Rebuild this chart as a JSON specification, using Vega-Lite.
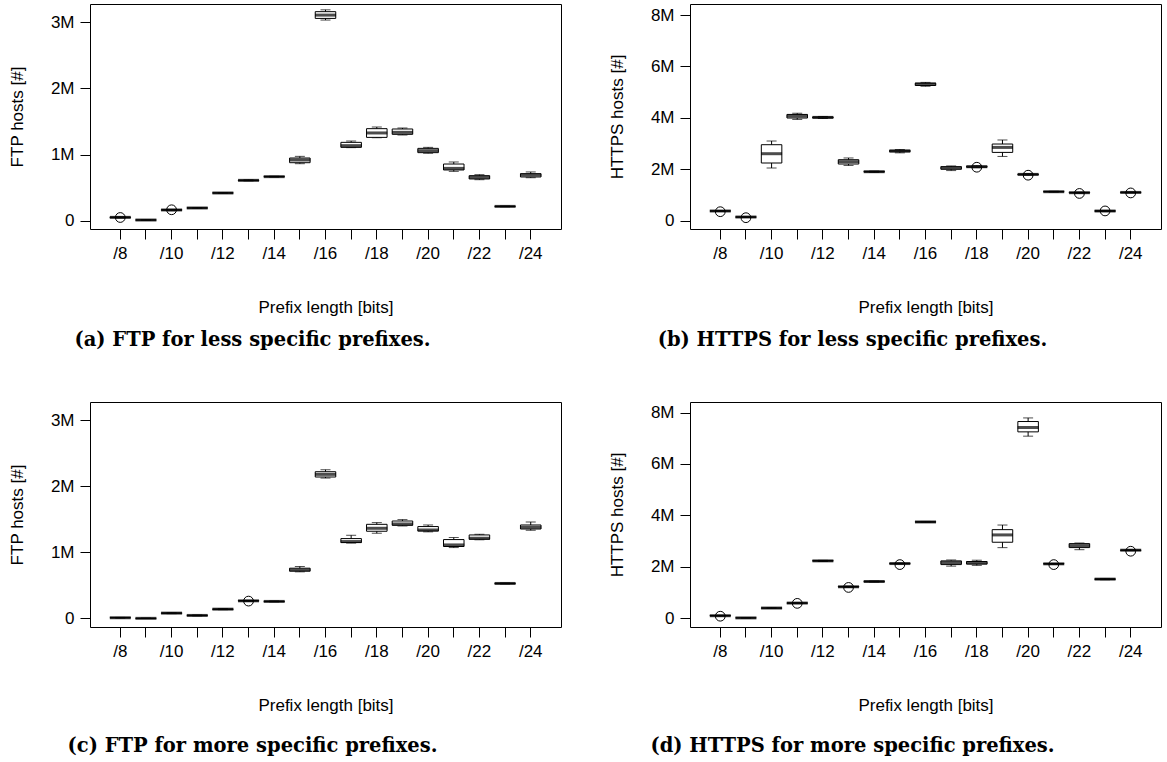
{
  "$schema": "https://vega.github.io/schema/vega-lite/v6.json",
  "background": "white",
  "padding": {"left": 7, "top": 3, "right": 0, "bottom": 0},
  "config": {
    "view": {"stroke": "black", "strokeWidth": 1},
    "axis": {"labelFont": "Liberation Sans", "labelFontSize": 17, "titleFont": "Liberation Sans", "titleFontSize": 17, "titleFontWeight": "normal", "labelColor": "black", "titleColor": "black", "tickColor": "black", "tickSize": 10, "labelPadding": 6, "domain": false, "grid": false},
    "axisX": {"labelAngle": 0, "titlePadding": 38, "labelOverlap": false},
    "axisY": {"titlePadding": 24},
    "title": {"font": "DejaVu Serif", "fontSize": 19.5, "fontWeight": "bold", "color": "black", "orient": "bottom", "anchor": "middle", "dx": -73, "offset": 16}
  },
  "datasets": {
    "boxes": [
      {"panel": "a", "p": 8, "lo": 40000, "q1": 45000, "med": 50000, "q3": 55000, "hi": 60000},
      {"panel": "a", "p": 9, "lo": 5000, "q1": 8000, "med": 10000, "q3": 12000, "hi": 15000},
      {"panel": "a", "p": 10, "lo": 150000, "q1": 157000, "med": 162000, "q3": 167000, "hi": 172000},
      {"panel": "a", "p": 11, "lo": 185000, "q1": 189000, "med": 192000, "q3": 195000, "hi": 199000},
      {"panel": "a", "p": 12, "lo": 412000, "q1": 416000, "med": 419000, "q3": 422000, "hi": 426000},
      {"panel": "a", "p": 13, "lo": 602000, "q1": 606000, "med": 610000, "q3": 614000, "hi": 618000},
      {"panel": "a", "p": 14, "lo": 660000, "q1": 663000, "med": 666000, "q3": 669000, "hi": 672000},
      {"panel": "a", "p": 15, "lo": 862000, "q1": 877000, "med": 918000, "q3": 948000, "hi": 973000},
      {"panel": "a", "p": 16, "lo": 3035000, "q1": 3060000, "med": 3110000, "q3": 3162000, "hi": 3190000},
      {"panel": "a", "p": 17, "lo": 1105000, "q1": 1109000, "med": 1135000, "q3": 1185000, "hi": 1205000},
      {"panel": "a", "p": 18, "lo": 1255000, "q1": 1260000, "med": 1327000, "q3": 1392000, "hi": 1417000},
      {"panel": "a", "p": 19, "lo": 1296000, "q1": 1306000, "med": 1336000, "q3": 1387000, "hi": 1402000},
      {"panel": "a", "p": 20, "lo": 1020000, "q1": 1029000, "med": 1059000, "q3": 1094000, "hi": 1109000},
      {"panel": "a", "p": 21, "lo": 746000, "q1": 767000, "med": 791000, "q3": 857000, "hi": 888000},
      {"panel": "a", "p": 22, "lo": 620000, "q1": 631000, "med": 655000, "q3": 681000, "hi": 696000},
      {"panel": "a", "p": 23, "lo": 210000, "q1": 213000, "med": 216000, "q3": 219000, "hi": 222000},
      {"panel": "a", "p": 24, "lo": 650000, "q1": 661000, "med": 691000, "q3": 711000, "hi": 737000},

      {"panel": "b", "p": 8, "lo": 360000, "q1": 370000, "med": 377000, "q3": 385000, "hi": 395000},
      {"panel": "b", "p": 9, "lo": 125000, "q1": 135000, "med": 143000, "q3": 150000, "hi": 160000},
      {"panel": "b", "p": 10, "lo": 2050000, "q1": 2244000, "med": 2606000, "q3": 2956000, "hi": 3100000},
      {"panel": "b", "p": 11, "lo": 3940000, "q1": 3994000, "med": 4072000, "q3": 4134000, "hi": 4180000},
      {"panel": "b", "p": 12, "lo": 3975000, "q1": 4000000, "med": 4018000, "q3": 4035000, "hi": 4055000},
      {"panel": "b", "p": 13, "lo": 2150000, "q1": 2205000, "med": 2295000, "q3": 2373000, "hi": 2440000},
      {"panel": "b", "p": 14, "lo": 1880000, "q1": 1893000, "med": 1906000, "q3": 1918000, "hi": 1930000},
      {"panel": "b", "p": 15, "lo": 2640000, "q1": 2680000, "med": 2711000, "q3": 2740000, "hi": 2770000},
      {"panel": "b", "p": 16, "lo": 5230000, "q1": 5260000, "med": 5317000, "q3": 5350000, "hi": 5380000},
      {"panel": "b", "p": 17, "lo": 1950000, "q1": 2000000, "med": 2061000, "q3": 2100000, "hi": 2130000},
      {"panel": "b", "p": 18, "lo": 2060000, "q1": 2080000, "med": 2100000, "q3": 2120000, "hi": 2140000},
      {"panel": "b", "p": 19, "lo": 2500000, "q1": 2657000, "med": 2851000, "q3": 2983000, "hi": 3140000},
      {"panel": "b", "p": 20, "lo": 1770000, "q1": 1785000, "med": 1801000, "q3": 1815000, "hi": 1830000},
      {"panel": "b", "p": 21, "lo": 1110000, "q1": 1120000, "med": 1128000, "q3": 1136000, "hi": 1145000},
      {"panel": "b", "p": 22, "lo": 1065000, "q1": 1078000, "med": 1089000, "q3": 1100000, "hi": 1110000},
      {"panel": "b", "p": 23, "lo": 355000, "q1": 365000, "med": 377000, "q3": 390000, "hi": 400000},
      {"panel": "b", "p": 24, "lo": 1080000, "q1": 1090000, "med": 1100000, "q3": 1110000, "hi": 1120000},

      {"panel": "c", "p": 8, "lo": 5000, "q1": 8000, "med": 10000, "q3": 12000, "hi": 15000},
      {"panel": "c", "p": 9, "lo": 0, "q1": 0, "med": 1000, "q3": 2000, "hi": 4000},
      {"panel": "c", "p": 10, "lo": 72000, "q1": 76000, "med": 80000, "q3": 84000, "hi": 88000},
      {"panel": "c", "p": 11, "lo": 38000, "q1": 42000, "med": 45000, "q3": 48000, "hi": 52000},
      {"panel": "c", "p": 12, "lo": 132000, "q1": 136000, "med": 140000, "q3": 144000, "hi": 148000},
      {"panel": "c", "p": 13, "lo": 258000, "q1": 262000, "med": 266000, "q3": 270000, "hi": 274000},
      {"panel": "c", "p": 14, "lo": 250000, "q1": 254000, "med": 257000, "q3": 260000, "hi": 264000},
      {"panel": "c", "p": 15, "lo": 705000, "q1": 715000, "med": 734000, "q3": 760000, "hi": 786000},
      {"panel": "c", "p": 16, "lo": 2124000, "q1": 2140000, "med": 2180000, "q3": 2220000, "hi": 2250000},
      {"panel": "c", "p": 17, "lo": 1140000, "q1": 1148000, "med": 1163000, "q3": 1208000, "hi": 1258000},
      {"panel": "c", "p": 18, "lo": 1289000, "q1": 1319000, "med": 1364000, "q3": 1424000, "hi": 1450000},
      {"panel": "c", "p": 19, "lo": 1399000, "q1": 1409000, "med": 1429000, "q3": 1474000, "hi": 1495000},
      {"panel": "c", "p": 20, "lo": 1310000, "q1": 1323000, "med": 1338000, "q3": 1390000, "hi": 1414000},
      {"panel": "c", "p": 21, "lo": 1072000, "q1": 1088000, "med": 1112000, "q3": 1193000, "hi": 1224000},
      {"panel": "c", "p": 22, "lo": 1190000, "q1": 1198000, "med": 1213000, "q3": 1263000, "hi": 1273000},
      {"panel": "c", "p": 23, "lo": 522000, "q1": 525000, "med": 529000, "q3": 533000, "hi": 536000},
      {"panel": "c", "p": 24, "lo": 1334000, "q1": 1353000, "med": 1379000, "q3": 1414000, "hi": 1459000},

      {"panel": "d", "p": 8, "lo": 70000, "q1": 80000, "med": 89000, "q3": 100000, "hi": 110000},
      {"panel": "d", "p": 9, "lo": 0, "q1": 2000, "med": 4000, "q3": 6000, "hi": 8000},
      {"panel": "d", "p": 10, "lo": 370000, "q1": 380000, "med": 388000, "q3": 395000, "hi": 405000},
      {"panel": "d", "p": 11, "lo": 560000, "q1": 572000, "med": 582000, "q3": 592000, "hi": 600000},
      {"panel": "d", "p": 12, "lo": 2200000, "q1": 2215000, "med": 2225000, "q3": 2235000, "hi": 2245000},
      {"panel": "d", "p": 13, "lo": 1190000, "q1": 1205000, "med": 1216000, "q3": 1228000, "hi": 1240000},
      {"panel": "d", "p": 14, "lo": 1400000, "q1": 1410000, "med": 1421000, "q3": 1432000, "hi": 1440000},
      {"panel": "d", "p": 15, "lo": 2100000, "q1": 2110000, "med": 2120000, "q3": 2130000, "hi": 2140000},
      {"panel": "d", "p": 16, "lo": 3720000, "q1": 3730000, "med": 3740000, "q3": 3750000, "hi": 3760000},
      {"panel": "d", "p": 17, "lo": 2020000, "q1": 2080000, "med": 2160000, "q3": 2225000, "hi": 2260000},
      {"panel": "d", "p": 18, "lo": 2050000, "q1": 2100000, "med": 2147000, "q3": 2200000, "hi": 2250000},
      {"panel": "d", "p": 19, "lo": 2740000, "q1": 2950000, "med": 3235000, "q3": 3440000, "hi": 3620000},
      {"panel": "d", "p": 20, "lo": 7080000, "q1": 7247000, "med": 7417000, "q3": 7650000, "hi": 7790000},
      {"panel": "d", "p": 21, "lo": 2090000, "q1": 2100000, "med": 2109000, "q3": 2118000, "hi": 2125000},
      {"panel": "d", "p": 22, "lo": 2660000, "q1": 2742000, "med": 2820000, "q3": 2897000, "hi": 2920000},
      {"panel": "d", "p": 23, "lo": 1490000, "q1": 1500000, "med": 1514000, "q3": 1528000, "hi": 1540000},
      {"panel": "d", "p": 24, "lo": 2620000, "q1": 2630000, "med": 2640000, "q3": 2650000, "hi": 2660000}
    ],
    "outliers": [
      {"panel": "a", "p": 8, "v": 48000},
      {"panel": "a", "p": 10, "v": 165000},
      {"panel": "b", "p": 8, "v": 350000},
      {"panel": "b", "p": 9, "v": 117000},
      {"panel": "b", "p": 18, "v": 2080000},
      {"panel": "b", "p": 20, "v": 1770000},
      {"panel": "b", "p": 22, "v": 1060000},
      {"panel": "b", "p": 23, "v": 380000},
      {"panel": "b", "p": 24, "v": 1080000},
      {"panel": "c", "p": 13, "v": 262000},
      {"panel": "d", "p": 8, "v": 70000},
      {"panel": "d", "p": 11, "v": 570000},
      {"panel": "d", "p": 13, "v": 1190000},
      {"panel": "d", "p": 15, "v": 2080000},
      {"panel": "d", "p": 21, "v": 2080000},
      {"panel": "d", "p": 24, "v": 2600000}
    ]
  },
  "spacing": 51,
  "vconcat": [
    {
      "spacing": 45,
      "hconcat": [
        {
          "width": 471, "height": 225,
          "title": {"text": "(a) FTP for less specific prefixes."},
          "encoding": {
            "x": {"field": "p", "type": "ordinal", "title": "Prefix length [bits]", "scale": {"domain": [8,9,10,11,12,13,14,15,16,17,18,19,20,21,22,23,24], "paddingInner": 0, "paddingOuter": 0.68}, "axis": {"labelExpr": "datum.value % 2 == 0 ? '/' + datum.value : ''"}}
          },
          "layer": [
            {"data": {"name": "boxes"}, "transform": [{"filter": "datum.panel == 'a'"}], "mark": {"type": "rule", "color": "black", "strokeWidth": 1},
             "encoding": {"y": {"field": "lo", "type": "quantitative", "title": "FTP hosts [#]", "scale": {"domain": [-126000, 3278000], "nice": false, "zero": false}, "axis": {"values": [0, 1000000, 2000000, 3000000], "labelExpr": "datum.value == 0 ? '0' : datum.value / 1000000 + 'M'"}}, "y2": {"field": "hi"}}},
            {"data": {"name": "boxes"}, "transform": [{"filter": "datum.panel == 'a'"}], "mark": {"type": "tick", "orient": "horizontal", "size": 10, "thickness": 1, "color": "black"},
             "encoding": {"y": {"field": "lo", "type": "quantitative", "title": "FTP hosts [#]"}}},
            {"data": {"name": "boxes"}, "transform": [{"filter": "datum.panel == 'a'"}], "mark": {"type": "tick", "orient": "horizontal", "size": 10, "thickness": 1, "color": "black"},
             "encoding": {"y": {"field": "hi", "type": "quantitative", "title": "FTP hosts [#]"}}},
            {"data": {"name": "boxes"}, "transform": [{"filter": "datum.panel == 'a'"}], "mark": {"type": "bar", "width": {"band": 0.8}, "fill": "white", "stroke": "black", "strokeWidth": 1},
             "encoding": {"y": {"field": "q1", "type": "quantitative", "title": "FTP hosts [#]"}, "y2": {"field": "q3"}}},
            {"data": {"name": "boxes"}, "transform": [{"filter": "datum.panel == 'a'"}], "mark": {"type": "tick", "orient": "horizontal", "size": 21, "thickness": 3, "color": "black"},
             "encoding": {"y": {"field": "med", "type": "quantitative", "title": "FTP hosts [#]"}}},
            {"data": {"name": "outliers"}, "transform": [{"filter": "datum.panel == 'a'"}], "mark": {"type": "point", "shape": "circle", "filled": false, "color": "black", "size": 95, "strokeWidth": 1, "opacity": 1},
             "encoding": {"y": {"field": "v", "type": "quantitative", "title": "FTP hosts [#]"}}}
          ]
        },
        {
          "width": 471, "height": 225,
          "title": {"text": "(b) HTTPS for less specific prefixes."},
          "encoding": {
            "x": {"field": "p", "type": "ordinal", "title": "Prefix length [bits]", "scale": {"domain": [8,9,10,11,12,13,14,15,16,17,18,19,20,21,22,23,24], "paddingInner": 0, "paddingOuter": 0.68}, "axis": {"labelExpr": "datum.value % 2 == 0 ? '/' + datum.value : ''"}}
          },
          "layer": [
            {"data": {"name": "boxes"}, "transform": [{"filter": "datum.panel == 'b'"}], "mark": {"type": "rule", "color": "black", "strokeWidth": 1},
             "encoding": {"y": {"field": "lo", "type": "quantitative", "title": "HTTPS hosts [#]", "scale": {"domain": [-323000, 8430000], "nice": false, "zero": false}, "axis": {"values": [0, 2000000, 4000000, 6000000, 8000000], "labelExpr": "datum.value == 0 ? '0' : datum.value / 1000000 + 'M'"}}, "y2": {"field": "hi"}}},
            {"data": {"name": "boxes"}, "transform": [{"filter": "datum.panel == 'b'"}], "mark": {"type": "tick", "orient": "horizontal", "size": 10, "thickness": 1, "color": "black"},
             "encoding": {"y": {"field": "lo", "type": "quantitative", "title": "HTTPS hosts [#]"}}},
            {"data": {"name": "boxes"}, "transform": [{"filter": "datum.panel == 'b'"}], "mark": {"type": "tick", "orient": "horizontal", "size": 10, "thickness": 1, "color": "black"},
             "encoding": {"y": {"field": "hi", "type": "quantitative", "title": "HTTPS hosts [#]"}}},
            {"data": {"name": "boxes"}, "transform": [{"filter": "datum.panel == 'b'"}], "mark": {"type": "bar", "width": {"band": 0.8}, "fill": "white", "stroke": "black", "strokeWidth": 1},
             "encoding": {"y": {"field": "q1", "type": "quantitative", "title": "HTTPS hosts [#]"}, "y2": {"field": "q3"}}},
            {"data": {"name": "boxes"}, "transform": [{"filter": "datum.panel == 'b'"}], "mark": {"type": "tick", "orient": "horizontal", "size": 21, "thickness": 3, "color": "black"},
             "encoding": {"y": {"field": "med", "type": "quantitative", "title": "HTTPS hosts [#]"}}},
            {"data": {"name": "outliers"}, "transform": [{"filter": "datum.panel == 'b'"}], "mark": {"type": "point", "shape": "circle", "filled": false, "color": "black", "size": 95, "strokeWidth": 1, "opacity": 1},
             "encoding": {"y": {"field": "v", "type": "quantitative", "title": "HTTPS hosts [#]"}}}
          ]
        }
      ]
    },
    {
      "spacing": 45,
      "hconcat": [
        {
          "width": 471, "height": 225,
          "title": {"text": "(c) FTP for more specific prefixes.", "offset": 24},
          "encoding": {
            "x": {"field": "p", "type": "ordinal", "title": "Prefix length [bits]", "scale": {"domain": [8,9,10,11,12,13,14,15,16,17,18,19,20,21,22,23,24], "paddingInner": 0, "paddingOuter": 0.68}, "axis": {"labelExpr": "datum.value % 2 == 0 ? '/' + datum.value : ''"}}
          },
          "layer": [
            {"data": {"name": "boxes"}, "transform": [{"filter": "datum.panel == 'c'"}], "mark": {"type": "rule", "color": "black", "strokeWidth": 1},
             "encoding": {"y": {"field": "lo", "type": "quantitative", "title": "FTP hosts [#]", "scale": {"domain": [-130000, 3275000], "nice": false, "zero": false}, "axis": {"values": [0, 1000000, 2000000, 3000000], "labelExpr": "datum.value == 0 ? '0' : datum.value / 1000000 + 'M'"}}, "y2": {"field": "hi"}}},
            {"data": {"name": "boxes"}, "transform": [{"filter": "datum.panel == 'c'"}], "mark": {"type": "tick", "orient": "horizontal", "size": 10, "thickness": 1, "color": "black"},
             "encoding": {"y": {"field": "lo", "type": "quantitative", "title": "FTP hosts [#]"}}},
            {"data": {"name": "boxes"}, "transform": [{"filter": "datum.panel == 'c'"}], "mark": {"type": "tick", "orient": "horizontal", "size": 10, "thickness": 1, "color": "black"},
             "encoding": {"y": {"field": "hi", "type": "quantitative", "title": "FTP hosts [#]"}}},
            {"data": {"name": "boxes"}, "transform": [{"filter": "datum.panel == 'c'"}], "mark": {"type": "bar", "width": {"band": 0.8}, "fill": "white", "stroke": "black", "strokeWidth": 1},
             "encoding": {"y": {"field": "q1", "type": "quantitative", "title": "FTP hosts [#]"}, "y2": {"field": "q3"}}},
            {"data": {"name": "boxes"}, "transform": [{"filter": "datum.panel == 'c'"}], "mark": {"type": "tick", "orient": "horizontal", "size": 21, "thickness": 3, "color": "black"},
             "encoding": {"y": {"field": "med", "type": "quantitative", "title": "FTP hosts [#]"}}},
            {"data": {"name": "outliers"}, "transform": [{"filter": "datum.panel == 'c'"}], "mark": {"type": "point", "shape": "circle", "filled": false, "color": "black", "size": 95, "strokeWidth": 1, "opacity": 1},
             "encoding": {"y": {"field": "v", "type": "quantitative", "title": "FTP hosts [#]"}}}
          ]
        },
        {
          "width": 471, "height": 225,
          "title": {"text": "(d) HTTPS for more specific prefixes.", "offset": 24},
          "encoding": {
            "x": {"field": "p", "type": "ordinal", "title": "Prefix length [bits]", "scale": {"domain": [8,9,10,11,12,13,14,15,16,17,18,19,20,21,22,23,24], "paddingInner": 0, "paddingOuter": 0.68}, "axis": {"labelExpr": "datum.value % 2 == 0 ? '/' + datum.value : ''"}}
          },
          "layer": [
            {"data": {"name": "boxes"}, "transform": [{"filter": "datum.panel == 'd'"}], "mark": {"type": "rule", "color": "black", "strokeWidth": 1},
             "encoding": {"y": {"field": "lo", "type": "quantitative", "title": "HTTPS hosts [#]", "scale": {"domain": [-350000, 8410000], "nice": false, "zero": false}, "axis": {"values": [0, 2000000, 4000000, 6000000, 8000000], "labelExpr": "datum.value == 0 ? '0' : datum.value / 1000000 + 'M'"}}, "y2": {"field": "hi"}}},
            {"data": {"name": "boxes"}, "transform": [{"filter": "datum.panel == 'd'"}], "mark": {"type": "tick", "orient": "horizontal", "size": 10, "thickness": 1, "color": "black"},
             "encoding": {"y": {"field": "lo", "type": "quantitative", "title": "HTTPS hosts [#]"}}},
            {"data": {"name": "boxes"}, "transform": [{"filter": "datum.panel == 'd'"}], "mark": {"type": "tick", "orient": "horizontal", "size": 10, "thickness": 1, "color": "black"},
             "encoding": {"y": {"field": "hi", "type": "quantitative", "title": "HTTPS hosts [#]"}}},
            {"data": {"name": "boxes"}, "transform": [{"filter": "datum.panel == 'd'"}], "mark": {"type": "bar", "width": {"band": 0.8}, "fill": "white", "stroke": "black", "strokeWidth": 1},
             "encoding": {"y": {"field": "q1", "type": "quantitative", "title": "HTTPS hosts [#]"}, "y2": {"field": "q3"}}},
            {"data": {"name": "boxes"}, "transform": [{"filter": "datum.panel == 'd'"}], "mark": {"type": "tick", "orient": "horizontal", "size": 21, "thickness": 3, "color": "black"},
             "encoding": {"y": {"field": "med", "type": "quantitative", "title": "HTTPS hosts [#]"}}},
            {"data": {"name": "outliers"}, "transform": [{"filter": "datum.panel == 'd'"}], "mark": {"type": "point", "shape": "circle", "filled": false, "color": "black", "size": 95, "strokeWidth": 1, "opacity": 1},
             "encoding": {"y": {"field": "v", "type": "quantitative", "title": "HTTPS hosts [#]"}}}
          ]
        }
      ]
    }
  ]
}
